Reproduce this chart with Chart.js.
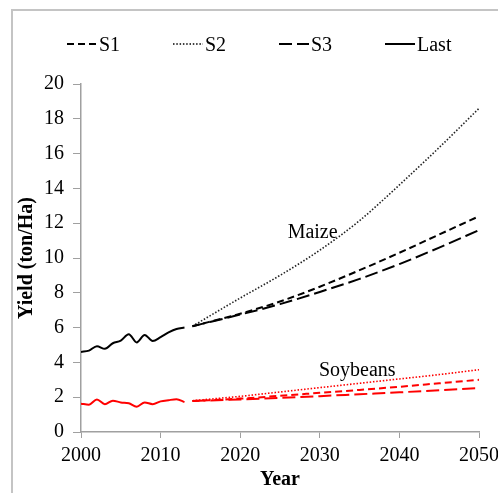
<!DOCTYPE html>
<html>
<head>
<meta charset="utf-8">
<script src="https://cdn.jsdelivr.net/npm/chart.js@4/dist/chart.umd.min.js"></script>
<style>
  html, body { margin: 0; padding: 0; overflow: hidden; background: #fff; }
  #frame { position: absolute; left: 11px; top: 9px; width: 700px; height: 700px;
           border-left: 2px solid #c4c4c4; border-top: 2px solid #c4c4c4; }
  #wrap { position: absolute; left: 0; top: 0; width: 520px; height: 493px; }
  #legend { position: absolute; left: 67px; top: 32px; display: flex;
            font-family: "Liberation Serif", "Times New Roman", serif; font-size: 20px; color: #000; }
  .item { width: 106px; display: flex; align-items: center; height: 24px; }
  .item svg { margin-right: 2px; }
</style>
</head>
<body>
<div id="frame"></div>
<div id="wrap"><canvas id="c"></canvas></div>
<div id="legend"></div>
<script>
// Observed yields 2000-2013
const histYears = [2000, 2001, 2002, 2003, 2004, 2005, 2006, 2007, 2008, 2009, 2010, 2011, 2012, 2013];
const maizeLast = [4.6, 4.68, 4.93, 4.78, 5.1, 5.25, 5.62, 5.15, 5.58, 5.23, 5.45, 5.72, 5.92, 6.0];
const soyLast   = [1.63, 1.57, 1.87, 1.6, 1.8, 1.7, 1.65, 1.45, 1.7, 1.6, 1.76, 1.83, 1.88, 1.72];

// Scenario projections 2014-2050
const projYears = [2014, 2020, 2025, 2030, 2035, 2040, 2045, 2050];
const maizeS1 = [6.08, 6.8, 7.5, 8.35, 9.3, 10.3, 11.35, 12.4];
const maizeS2 = [6.08, 7.7, 9.0, 10.45, 12.15, 14.2, 16.35, 18.6];
const maizeS3 = [6.08, 6.75, 7.35, 8.05, 8.8, 9.65, 10.6, 11.6];
const soyS1 = [1.78, 1.92, 2.08, 2.25, 2.42, 2.6, 2.8, 3.0];
const soyS2 = [1.8, 2.05, 2.3, 2.55, 2.8, 3.05, 3.3, 3.58];
const soyS3 = [1.78, 1.87, 1.96, 2.06, 2.17, 2.28, 2.4, 2.52];

const yTicks = [0, 2, 4, 6, 8, 10, 12, 14, 16, 18, 20];
const xTicks = [2000, 2010, 2020, 2030, 2040, 2050];

// Crop name labels placed at (year, yield)
const cropLabels = [
  { text: 'Maize', x: 2029.1, y: 11.45 },
  { text: 'Soybeans', x: 2034.7, y: 3.5 }
];

const serif = '"Liberation Serif", "Times New Roman", serif';
const pts = (xs, ys) => xs.map((x, i) => ({ x, y: ys[i] }));

const styles = {
  S1:   { borderDash: [7, 4], borderWidth: 2 },
  S2:   { borderDash: [1.5, 1.8], borderWidth: 1.6 },
  S3:   { borderDash: [13, 5], borderWidth: 2 },
  Last: { borderDash: [], borderWidth: 2 }
};

function series(label, crop, color, xs, ys) {
  return Object.assign({
    label, crop, data: pts(xs, ys), borderColor: color, backgroundColor: color,
    pointRadius: 0, fill: false, cubicInterpolationMode: 'monotone'
  }, styles[label]);
}

const datasets = [
  series('S1', 'Maize', '#000', projYears, maizeS1),
  series('S2', 'Maize', '#222', projYears, maizeS2),
  series('S3', 'Maize', '#000', projYears, maizeS3),
  series('Last', 'Maize', '#000', histYears, maizeLast),
  series('S1', 'Soybeans', '#ff0000', projYears, soyS1),
  series('S2', 'Soybeans', '#ff0000', projYears, soyS2),
  series('S3', 'Soybeans', '#ff0000', projYears, soyS3),
  series('Last', 'Soybeans', '#ff0000', histYears, soyLast)
];
datasets.forEach(d => { if (d.label === 'Last') d.tension = 0.4; });

const cropText = {
  id: 'cropText',
  afterDatasetsDraw(chart) {
    const { ctx, scales: { x, y } } = chart;
    ctx.save();
    ctx.font = '20px ' + serif;
    ctx.fillStyle = '#000';
    ctx.textAlign = 'center';
    ctx.textBaseline = 'middle';
    cropLabels.forEach(l => ctx.fillText(l.text, x.getPixelForValue(l.x), y.getPixelForValue(l.y)));
    ctx.restore();
  }
};

const htmlLegend = {
  id: 'htmlLegend',
  afterUpdate(chart) {
    const box = document.getElementById('legend');
    box.innerHTML = '';
    chart.data.datasets.filter(d => d.crop === 'Maize').forEach(d => {
      const item = document.createElement('div');
      item.className = 'item';
      const ns = 'http://www.w3.org/2000/svg';
      const svg = document.createElementNS(ns, 'svg');
      svg.setAttribute('width', '30'); svg.setAttribute('height', '6');
      const line = document.createElementNS(ns, 'line');
      line.setAttribute('x1', '0'); line.setAttribute('x2', '30');
      line.setAttribute('y1', '3'); line.setAttribute('y2', '3');
      line.setAttribute('stroke', '#000');
      line.setAttribute('stroke-width', d.borderWidth);
      if (d.borderDash.length) line.setAttribute('stroke-dasharray', d.borderDash.join(' '));
      svg.appendChild(line);
      const span = document.createElement('span');
      span.textContent = d.label;
      item.appendChild(svg); item.appendChild(span);
      box.appendChild(item);
    });
  }
};

const axisColor = '#a0a0a0';

new Chart(document.getElementById('c'), {
  type: 'line',
  data: { datasets },
  options: {
    responsive: true,
    maintainAspectRatio: false,
    animation: false,
    layout: { padding: { left: 12, top: 84, right: 41, bottom: 0 } },
    plugins: { legend: { display: false }, tooltip: { enabled: false } },
    scales: {
      x: {
        type: 'linear', min: 2000, max: 2050,
        afterBuildTicks: s => { s.ticks = xTicks.map(v => ({ value: v })); },
        afterFit: s => { s.height = 61; },
        grid: { drawOnChartArea: false, tickLength: 6, color: axisColor },
        border: { color: axisColor, width: 1.5 },
        ticks: { color: '#000', font: { family: serif, size: 20 }, padding: 6,
                 callback: v => String(v) },
        title: { display: true, text: 'Year', color: '#000', padding: { top: 0, bottom: 1 },
                 font: { family: serif, size: 20, weight: 'bold' } }
      },
      y: {
        min: 0, max: 20,
        afterBuildTicks: s => { s.ticks = yTicks.map(v => ({ value: v })); },
        afterFit: s => { s.width = 69; },
        grid: { drawOnChartArea: false, tickLength: 8, color: axisColor },
        border: { color: axisColor, width: 1.5 },
        ticks: { color: '#000', font: { family: serif, size: 20 }, padding: 9 },
        title: { display: true, text: 'Yield (ton/Ha)', color: '#000', padding: { top: 3, bottom: 0 },
                 font: { family: serif, size: 20, weight: 'bold' } }
      }
    }
  },
  plugins: [cropText, htmlLegend]
});
</script>
</body>
</html>
